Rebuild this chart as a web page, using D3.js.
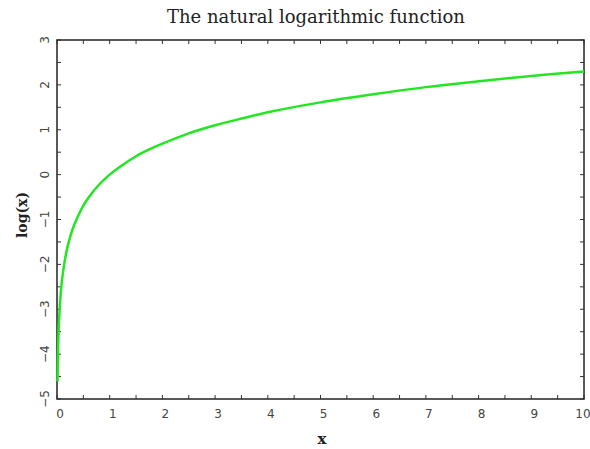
<!DOCTYPE html>
<html>
<head>
<meta charset="utf-8">
<script src="https://cdn.jsdelivr.net/npm/d3@7"></script>
<style>
  body { margin: 0; background: #fff; }
</style>
</head>
<body>
<div id="chart"></div>
<script>
// values
const xs = [0.01, 0.02, 0.03, 0.05, 0.07, 0.1, 0.15, 0.2, 0.3, 0.4, 0.5, 0.6, 0.8, 1, 1.25, 1.5, 1.75, 2, 2.5, 3, 3.5, 4, 5, 6, 7, 8, 9, 10];
const ys = [-4.61, -3.91, -3.51, -3.0, -2.66, -2.3, -1.9, -1.61, -1.2, -0.92, -0.69, -0.51, -0.22, 0, 0.22, 0.41, 0.56, 0.69, 0.92, 1.1, 1.25, 1.39, 1.61, 1.79, 1.95, 2.08, 2.2, 2.3];
const xTicks = [0, 1, 2, 3, 4, 5, 6, 7, 8, 9, 10];
const yTicks = [-5, -4, -3, -2, -1, 0, 1, 2, 3];

const W = 590, H = 449;
const margin = { top: 40, right: 6, bottom: 50, left: 57 };
const w = W - margin.left - margin.right;
const h = H - margin.top - margin.bottom;

const svg = d3.select("#chart").append("svg")
  .attr("width", W)
  .attr("height", H);

const g = svg.append("g")
  .attr("transform", "translate(" + margin.left + "," + margin.top + ")");

const x = d3.scaleLinear().domain([0, 10]).range([0, w]);
const y = d3.scaleLinear().domain([-5, 3]).range([h, 0]);

const minorX = d3.range(0.5, 10, 1);
const minorY = d3.range(-4.5, 3, 1);

// frame
g.append("rect")
  .attr("width", w).attr("height", h)
  .attr("fill", "none").attr("stroke", "#222").attr("stroke-width", 1.5);

// inward ticks on all four sides
const tickG = g.append("g").attr("stroke", "#333").attr("stroke-width", 1);
[...xTicks, ...minorX].forEach(v => {
  tickG.append("line").attr("x1", x(v)).attr("x2", x(v)).attr("y1", h).attr("y2", h - 4);
  tickG.append("line").attr("x1", x(v)).attr("x2", x(v)).attr("y1", 0).attr("y2", 4);
});
[...yTicks, ...minorY].forEach(v => {
  tickG.append("line").attr("x1", 0).attr("x2", 4).attr("y1", y(v)).attr("y2", y(v));
  tickG.append("line").attr("x1", w).attr("x2", w - 4).attr("y1", y(v)).attr("y2", y(v));
});

// x labels
g.append("g").selectAll("text")
  .data(xTicks).enter().append("text")
  .attr("x", d => Math.min(x(d) + 3, w - 1))
  .attr("y", h + 19)
  .attr("text-anchor", "middle")
  .style("font-family", "DejaVu Sans, sans-serif")
  .style("font-size", "12px")
  .attr("fill", "#444")
  .text(d => d);

// y labels, rotated
g.append("g").selectAll("text")
  .data(yTicks).enter().append("text")
  .attr("transform", d => "translate(-8," + y(d) + ") rotate(-90)")
  .attr("text-anchor", "middle")
  .style("font-family", "DejaVu Sans, sans-serif")
  .style("font-size", "12px")
  .attr("fill", "#444")
  .text(d => d < 0 ? "\u2212" + Math.abs(d) : d);

// curve
const line = d3.line()
  .x((d, i) => x(xs[i]))
  .y(d => y(d))
  .curve(d3.curveCatmullRom.alpha(0.5));

g.append("path")
  .datum(ys)
  .attr("d", line)
  .attr("fill", "none")
  .attr("stroke", "#22e622")
  .attr("stroke-width", 2.5);

// title and axis titles
svg.append("text")
  .attr("x", 316).attr("y", 23)
  .attr("text-anchor", "middle")
  .style("font-family", "DejaVu Serif, serif")
  .style("font-size", "18px")
  .attr("fill", "#222")
  .text("The natural logarithmic function");

svg.append("text")
  .attr("x", 322).attr("y", 444)
  .attr("text-anchor", "middle")
  .style("font-family", "DejaVu Serif, serif")
  .style("font-size", "15px")
  .style("font-weight", "bold")
  .attr("fill", "#222")
  .text("x");

svg.append("text")
  .attr("transform", "translate(27,215) rotate(-90)")
  .attr("text-anchor", "middle")
  .style("font-family", "DejaVu Serif, serif")
  .style("font-size", "14px")
  .style("font-weight", "bold")
  .attr("fill", "#222")
  .text("log(x)");
</script>
</body>
</html>
